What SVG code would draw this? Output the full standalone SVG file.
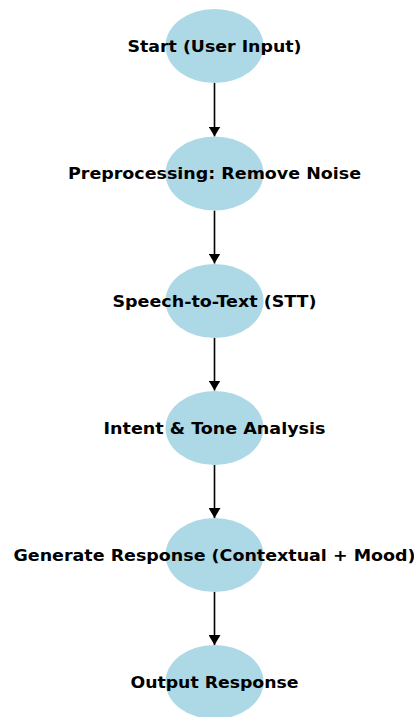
<svg xmlns="http://www.w3.org/2000/svg" width="414" height="717" viewBox="0 0 414 717">
<style>
.n{fill:#add8e6}
.t{font-family:"DejaVu Sans","Liberation Sans",sans-serif;font-weight:bold;font-size:16px;fill:#000;text-anchor:middle}
.e{stroke:#000;stroke-width:1.6;fill:none;marker-end:url(#ah)}
</style>
<defs>
<marker id="ah" viewBox="0 0 10 12" refX="10" refY="6" markerWidth="10" markerHeight="12" markerUnits="userSpaceOnUse" orient="auto">
<path d="M0,0 L10,6 L0,12 Z" fill="#000"/>
</marker>
</defs>
<rect width="414" height="717" fill="#fff"/>
<g id="edges">
<line class="e" x1="214.5" y1="83" x2="214.5" y2="136.5"/>
<line class="e" x1="214.5" y1="210.5" x2="214.5" y2="263.5"/>
<line class="e" x1="214.5" y1="338" x2="214.5" y2="390.5"/>
<line class="e" x1="214.5" y1="465" x2="214.5" y2="518"/>
<line class="e" x1="214.5" y1="592" x2="214.5" y2="645"/>
</g>
<g id="n1"><ellipse class="n" cx="214.5" cy="46" rx="49" ry="37"/><text class="t" x="214.5" y="51.5" textLength="174" lengthAdjust="spacingAndGlyphs">Start (User Input)</text></g>
<g id="n2"><ellipse class="n" cx="214.5" cy="173.5" rx="49" ry="37"/><text class="t" x="214.5" y="179" textLength="293" lengthAdjust="spacingAndGlyphs">Preprocessing: Remove Noise</text></g>
<g id="n3"><ellipse class="n" cx="214.5" cy="301" rx="49" ry="37"/><text class="t" x="214.5" y="306.5" textLength="204" lengthAdjust="spacingAndGlyphs">Speech-to-Text (STT)</text></g>
<g id="n4"><ellipse class="n" cx="214.5" cy="428" rx="49" ry="37"/><text class="t" x="214.5" y="433.5" textLength="222" lengthAdjust="spacingAndGlyphs">Intent &amp; Tone Analysis</text></g>
<g id="n5"><ellipse class="n" cx="214.5" cy="555" rx="49" ry="37"/><text class="t" x="214.5" y="560.5" textLength="402" lengthAdjust="spacingAndGlyphs">Generate Response (Contextual + Mood)</text></g>
<g id="n6"><ellipse class="n" cx="214.5" cy="682" rx="49" ry="37"/><text class="t" x="214.5" y="687.5" textLength="168" lengthAdjust="spacingAndGlyphs">Output Response</text></g>
</svg>
